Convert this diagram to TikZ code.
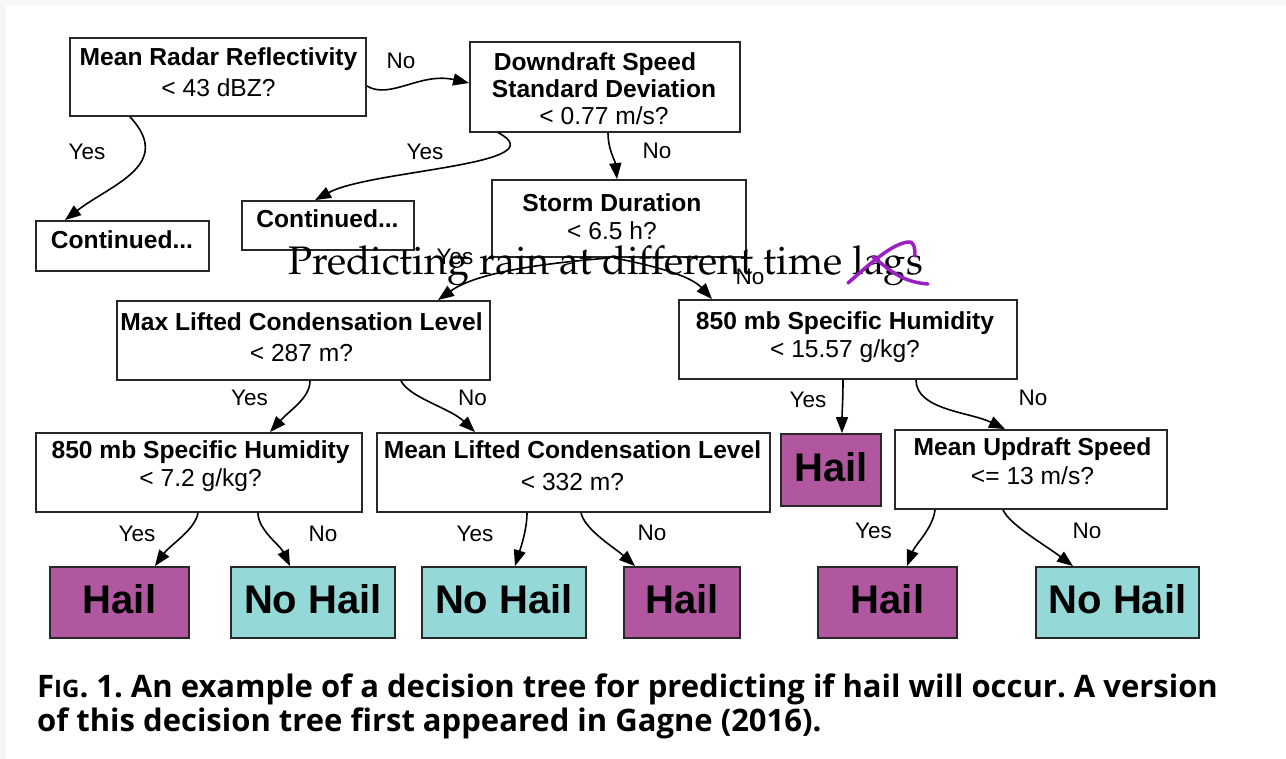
\documentclass[tikz,border=0pt]{standalone}
\usepackage{fontspec}
\usetikzlibrary{arrows.meta}
\newfontfamily\arialfam{Liberation Sans}
\newfontfamily\captionfam{Open Sans}
\newcommand\palatinotext{\fontencoding{OT1}\fontfamily{ppl}\fontseries{m}\fontshape{n}\fontsize{39.8}{44}\selectfont}
\definecolor{hailfill}{RGB}{176,87,160}
\definecolor{nohailfill}{RGB}{148,216,216}
\definecolor{frame}{RGB}{40,40,40}
\definecolor{inkmark}{RGB}{158,32,196}

\begin{document}
\frenchspacing
\begin{tikzpicture}[x=1pt,y=-1pt,
  qbox/.style={draw=frame, line width=1.8pt, fill=white, inner sep=0pt},
  leaf/.style={qbox, font=\arialfam\bfseries\fontsize{40}{44}\selectfont, text depth=6pt},
  hailbox/.style={leaf, fill=hailfill},
  nohailbox/.style={leaf, fill=nohailfill},
  qtext/.style={inner sep=0pt, align=center, font=\arialfam\fontsize{24.6}{#1}\selectfont},
  qtext/.default=30,
  conn/.style={draw=black, line width=1.6pt, -{Triangle[length=16pt,width=12pt]}},
  edgelab/.style={inner sep=0pt, font=\arialfam\fontsize{22.5}{26}\selectfont},
  capline/.style={inner sep=0pt, anchor=base west, font=\captionfam\bfseries\fontsize{31}{34}\selectfont},
  ink/.style={draw=inkmark, line width=3.5pt, line cap=round, line join=round}
]
\useasboundingbox (0,0) rectangle (1286,759);
\fill[gray!6] (0,0) rectangle (1286,759);
\fill[white] (6,5) rectangle (1286,759);

% question boxes
\node[qbox, minimum width=296pt, minimum height=78pt] (b1) at (218,77) {};
\node[qbox, minimum width=270pt, minimum height=90pt] (b2) at (605,86.7) {};
\node[qbox, minimum width=173pt, minimum height=50pt] (c1) at (122.5,246) {};
\node[qbox, minimum width=172pt, minimum height=49pt] (c2) at (328,225.5) {};
\node[qbox, minimum width=254pt, minimum height=77pt] (sd) at (619,218.5) {};
\node[qbox, minimum width=373pt, minimum height=79pt] (mx) at (303.5,340.5) {};
\node[qbox, minimum width=338pt, minimum height=79pt] (sh1) at (848,339.5) {};
\node[qbox, minimum width=326pt, minimum height=79pt] (sh2) at (199,472.5) {};
\node[qbox, minimum width=393pt, minimum height=79pt] (ml) at (573.5,472.5) {};
\node[qbox, minimum width=272pt, minimum height=79pt] (mu) at (1031,469.5) {};

% box texts
\node[qtext=31] (t1) at (218.5,72.5) {\textbf{Mean Radar Reflectivity}\\< 43 dBZ?};
\node[qtext=26.8] (t2) at (604,89) {\textbf{Downdraft Speed}\hspace*{18pt}\\\textbf{Standard Deviation}\\< 0.77 m/s?};
\node[qtext] (tc1) at (122,239.6) {\textbf{Continued...}};
\node[qtext] (tc2) at (327.5,218.6) {\textbf{Continued...}};
\node[qtext=27.3] (tsd) at (612,216.7) {\textbf{Storm Duration}\\< 6.5 h?};
\node[qtext=31.7] (tmx) at (301.5,337.2) {\textbf{Max Lifted Condensation Level}\\< 287 m?};
\node[qtext=28.4] (tsh1) at (845,337.3) {\textbf{850 mb Specific Humidity}\\< 15.57 g/kg?};
\node[qtext=28.4] (tsh2) at (200.6,466.3) {\textbf{850 mb Specific Humidity}\\< 7.2 g/kg?};
\node[qtext=32.7] (tml) at (572.5,465.8) {\textbf{Mean Lifted Condensation Level}\\< 332 m?};
\node[qtext=28.6] (tmu) at (1032.5,461.3) {\textbf{Mean Updraft Speed}\\<= 13 m/s?};

% outcome boxes
\node[hailbox, minimum width=100pt, minimum height=72pt] (hm) at (831,470) {Hail};
\node[hailbox, minimum width=139pt, minimum height=71pt] (L1) at (119.5,602.5) {Hail};
\node[nohailbox, minimum width=164pt, minimum height=71pt] (L2) at (313,602.5) {No Hail};
\node[nohailbox, minimum width=164pt, minimum height=71pt] (L3) at (504,602.5) {No Hail};
\node[hailbox, minimum width=116pt, minimum height=71pt] (L4) at (682,602.5) {Hail};
\node[hailbox, minimum width=139pt, minimum height=71pt] (L5) at (887.5,602.5) {Hail};
\node[nohailbox, minimum width=163pt, minimum height=71pt] (L6) at (1117.5,602.5) {No Hail};

% connectors
\draw[conn] ([yshift=-9pt]b1.east) .. controls (390,100) and (420,72) .. ([yshift=3.7pt]b2.west);
\draw[conn] ([xshift=-88pt]b1.south) .. controls (175,165) and (110,185) .. ([xshift=-57.5pt]c1.north);
\draw[conn] ([xshift=-107pt]b2.south) .. controls (560,165) and (370,170) .. ([xshift=-13pt]c2.north);
\draw[conn] ([xshift=3pt]b2.south) .. controls (608,150) and (615,160) .. ([xshift=-2pt]sd.north);
\draw[conn] ([xshift=-9pt]sd.south) .. controls (560,262) and (480,270) .. ([xshift=134.5pt]mx.north);
\draw[conn] ([xshift=-5pt]sd.south) .. controls (650,265) and (690,275) .. ([xshift=-136pt]sh1.north);
\draw[conn] ([xshift=6.5pt]mx.south) .. controls (310,398) and (290,410) .. ([xshift=71pt]sh2.north);
\draw[conn] ([xshift=97.5pt]mx.south) .. controls (410,398) and (450,408) .. ([xshift=-98.5pt]ml.north);
\draw[conn] ([xshift=-1pt]sh2.south) .. controls (195,530) and (170,545) .. ([xshift=35.5pt]L1.north);
\draw[conn] ([xshift=59pt]sh2.south) .. controls (258,530) and (280,545) .. ([xshift=-23pt]L2.north);
\draw[conn] ([xshift=-46.5pt]ml.south) .. controls (527,530) and (520,550) .. ([xshift=11pt]L3.north);
\draw[conn] ([xshift=7.5pt]ml.south) .. controls (585,530) and (615,548) .. ([xshift=-47pt]L4.north);
\draw[conn] ([xshift=-5pt]sh1.south) .. controls (843,400) and (842,415) .. ([xshift=11pt]hm.north);
\draw[conn] ([xshift=68pt]sh1.south) .. controls (916,410) and (970,412) .. ([xshift=-26pt]mu.north);
\draw[conn] ([xshift=-96pt]mu.south) .. controls (933,528) and (915,545) .. ([xshift=19.5pt]L5.north);
\draw[conn] ([xshift=-28pt]mu.south) .. controls (1010,525) and (1045,545) .. ([xshift=-44.5pt]L6.north);

% branch labels
\node[edgelab] (n1) at (401,60.5) {No};
\node[edgelab] (y1) at (87,152) {Yes};
\node[edgelab] (y2) at (425,152) {Yes};
\node[edgelab] (n2) at (657,151) {No};
\node[edgelab] (y3) at (455,257) {Yes};
\node[edgelab] (n3) at (750,276.5) {No};
\node[edgelab] (y4) at (249.5,398) {Yes};
\node[edgelab] (n4) at (472.5,398) {No};
\node[edgelab] (y5) at (137,534) {Yes};
\node[edgelab] (n5) at (323,534) {No};
\node[edgelab] (y6) at (475,534) {Yes};
\node[edgelab] (n6) at (652,533) {No};
\node[edgelab] (y7) at (808,400) {Yes};
\node[edgelab] (n7) at (1033,398) {No};
\node[edgelab] (y8) at (873.5,531) {Yes};
\node[edgelab] (n8) at (1087,531) {No};

% slide title laid over the tree, with a pen mark
\node[anchor=base west, inner sep=0pt, font=\palatinotext] (title) at (288,275) {Predicting rain at different time lags};
\draw[ink] (848,283) .. controls (872,262) and (892,244) .. (908,242) .. controls (915,241) and (915,250) .. (915,256);
\draw[ink] (873,257) .. controls (888,268) and (900,282) .. (928,284);

% caption
\node[capline] (cap1) at (37,697) {F{\fontsize{24}{26}\selectfont IG}. 1. An example of a decision tree for predicting if hail will occur. A version};
\node[capline] (cap2) at (37,731) {of this decision tree first appeared in Gagne (2016).};
\end{tikzpicture}
\end{document}
